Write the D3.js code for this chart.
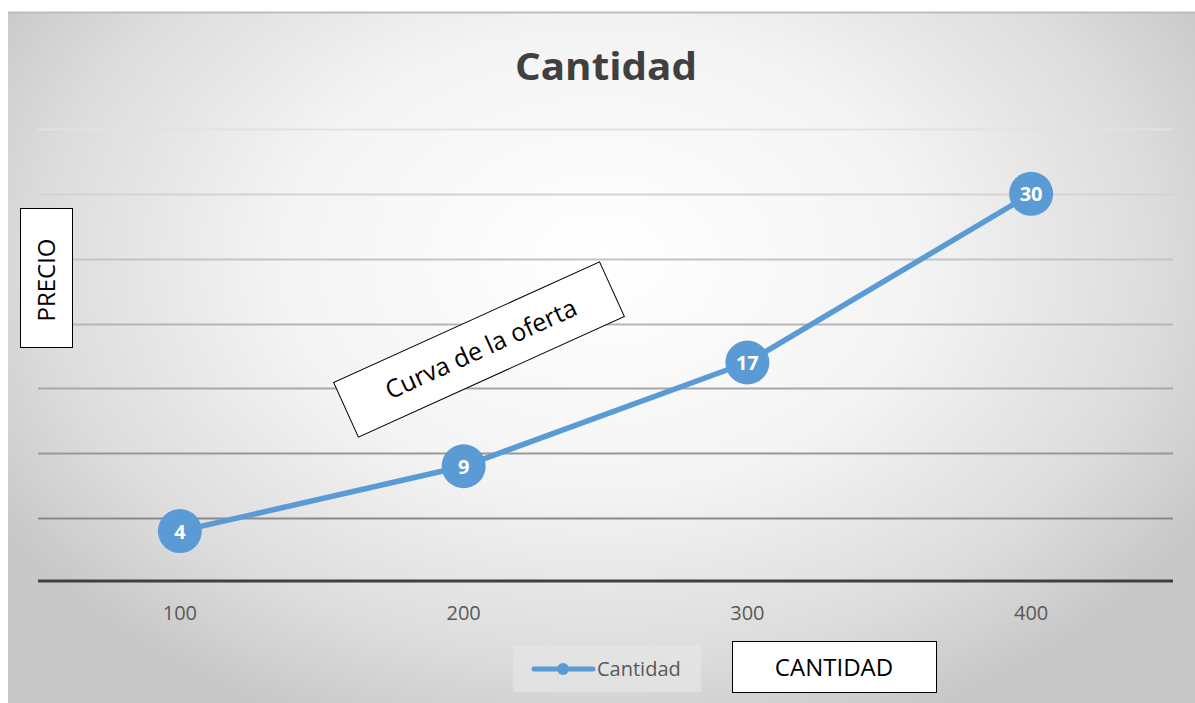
<!DOCTYPE html>
<html>
<head>
<meta charset="utf-8">
<script src="https://cdn.jsdelivr.net/npm/d3@7"></script>
<style>
  html, body { margin: 0; padding: 0; background: #ffffff; }
  svg { display: block; }
</style>
</head>
<body>
<script>
// ---- data ----
const categories = ["100", "200", "300", "400"];
const values = [4, 9, 17, 30];
const seriesName = "Cantidad";
const yGridTicks = [0, 5, 10, 15, 20, 25, 30, 35];
const titleText = "Cantidad";
const yAxisTitle = "PRECIO";
const xAxisTitle = "CANTIDAD";
const annotationText = "Curva de la oferta";

const W = 1195, H = 703;
const svg = d3.select("body").append("svg").attr("width", W).attr("height", H);

const defs = svg.append("defs");
const rg = defs.append("radialGradient").attr("id", "bg")
  .attr("gradientUnits", "userSpaceOnUse")
  .attr("cx", 600).attr("cy", 260).attr("r", 700)
  .attr("gradientTransform", "translate(600,260) scale(1,0.72) translate(-600,-260)");
rg.append("stop").attr("offset", "0%").attr("stop-color", "#ffffff");
rg.append("stop").attr("offset", "45%").attr("stop-color", "#f4f4f4");
rg.append("stop").attr("offset", "80%").attr("stop-color", "#dcdcdc");
rg.append("stop").attr("offset", "100%").attr("stop-color", "#c8c8c8");

// chart area background
svg.append("rect").attr("x", 8).attr("y", 12).attr("width", W - 8).attr("height", H - 12)
  .attr("fill", "url(#bg)");
svg.append("line").attr("x1", 8).attr("x2", W).attr("y1", 12.5).attr("y2", 12.5)
  .attr("stroke", "#bdbdbd").attr("stroke-width", 2);

// scales
const x = d3.scaleBand().domain(categories).range([38, 1173]);
const y = d3.scaleLinear().domain([0, 35]).range([583, 129]);

// gridlines
const gridColor = d3.scaleLinear().domain([35, 0]).range(["#e2e2e2", "#7a7a7a"]);
const grid = svg.append("g");
yGridTicks.filter(t => t > 0).forEach(t => {
  grid.append("line")
    .attr("x1", 38).attr("x2", 1173)
    .attr("y1", Math.round(y(t)) + 0.5).attr("y2", Math.round(y(t)) + 0.5)
    .attr("stroke", gridColor(t)).attr("stroke-width", 2);
});

// x axis
const xAxis = d3.axisBottom(x).tickSize(0).tickPadding(0);
const gx = svg.append("g").attr("transform", `translate(0,${y(0) - 2})`).call(xAxis);
gx.select(".domain").attr("stroke", "#404040").attr("stroke-width", 3).attr("d", `M38,0H1173`);
gx.selectAll("text")
  .attr("font-family", "'Open Sans', sans-serif").attr("font-size", 20)
  .attr("fill", "#595959").attr("dy", "1.95em");

// title
svg.append("text").attr("x", 606).attr("y", 80).attr("text-anchor", "middle")
  .attr("font-family", "'Open Sans', sans-serif").attr("font-weight", "bold")
  .attr("font-size", 37).attr("fill", "#404040").attr("textLength", 182)
  .attr("lengthAdjust", "spacingAndGlyphs")
  .text(titleText);

// line
const blue = "#5b9bd5";
const lineGen = d3.line().x((d, i) => x(categories[i]) + x.bandwidth() / 2).y(d => y(d));
svg.append("path").datum(values).attr("d", lineGen)
  .attr("fill", "none").attr("stroke", blue).attr("stroke-width", 5.5).attr("stroke-linejoin", "round");

// markers with labels
const pts = svg.append("g").selectAll("g").data(values).join("g")
  .attr("transform", (d, i) => `translate(${x(categories[i]) + x.bandwidth() / 2},${y(d)})`);
pts.append("circle").attr("r", 22).attr("fill", blue);
pts.append("text").attr("text-anchor", "middle").attr("dy", "0.38em")
  .attr("font-family", "'Open Sans', sans-serif").attr("font-weight", "bold")
  .attr("font-size", 20).attr("fill", "#ffffff").text(d => d);

// legend
const lg = svg.append("g").attr("transform", "translate(513,645)");
lg.append("rect").attr("width", 188).attr("height", 47).attr("fill", "#e6e6e6").attr("opacity", 0.7);
lg.append("line").attr("x1", 21).attr("x2", 80).attr("y1", 24).attr("y2", 24)
  .attr("stroke", blue).attr("stroke-width", 5).attr("stroke-linecap", "round");
lg.append("circle").attr("cx", 50).attr("cy", 24).attr("r", 6).attr("fill", blue);
lg.append("text").attr("x", 84).attr("y", 31)
  .attr("font-family", "'Open Sans', sans-serif").attr("font-size", 20).attr("fill", "#595959")
  .text(seriesName);

// x axis title box
const xb = svg.append("g").attr("transform", "translate(732,641)");
xb.append("rect").attr("x", 0.5).attr("y", 0.5).attr("width", 204).attr("height", 51)
  .attr("fill", "#ffffff").attr("stroke", "#000000").attr("stroke-width", 1);
xb.append("text").attr("x", 102).attr("y", 35).attr("text-anchor", "middle")
  .attr("font-family", "'Open Sans', sans-serif").attr("font-size", 24).attr("fill", "#000000")
  .text(xAxisTitle);

// y axis title box
const yb = svg.append("g").attr("transform", "translate(20,208)");
yb.append("rect").attr("x", 0.5).attr("y", 0.5).attr("width", 52).attr("height", 139)
  .attr("fill", "#ffffff").attr("stroke", "#000000").attr("stroke-width", 1);
yb.append("text").attr("transform", "translate(35,72) rotate(-90)").attr("text-anchor", "middle")
  .attr("font-family", "'Open Sans', sans-serif").attr("font-size", 24).attr("fill", "#000000")
  .text(yAxisTitle);

// annotation box
const ab = svg.append("g").attr("transform", "translate(479,349.5) rotate(-24.4)");
ab.append("rect").attr("x", -146).attr("y", -30).attr("width", 292).attr("height", 60)
  .attr("fill", "#ffffff").attr("stroke", "#000000").attr("stroke-width", 1);
ab.append("text").attr("x", 2).attr("y", 9).attr("text-anchor", "middle")
  .attr("font-family", "'Open Sans', sans-serif").attr("font-size", 25).attr("fill", "#000000")
  .text(annotationText);
</script>
</body>
</html>
